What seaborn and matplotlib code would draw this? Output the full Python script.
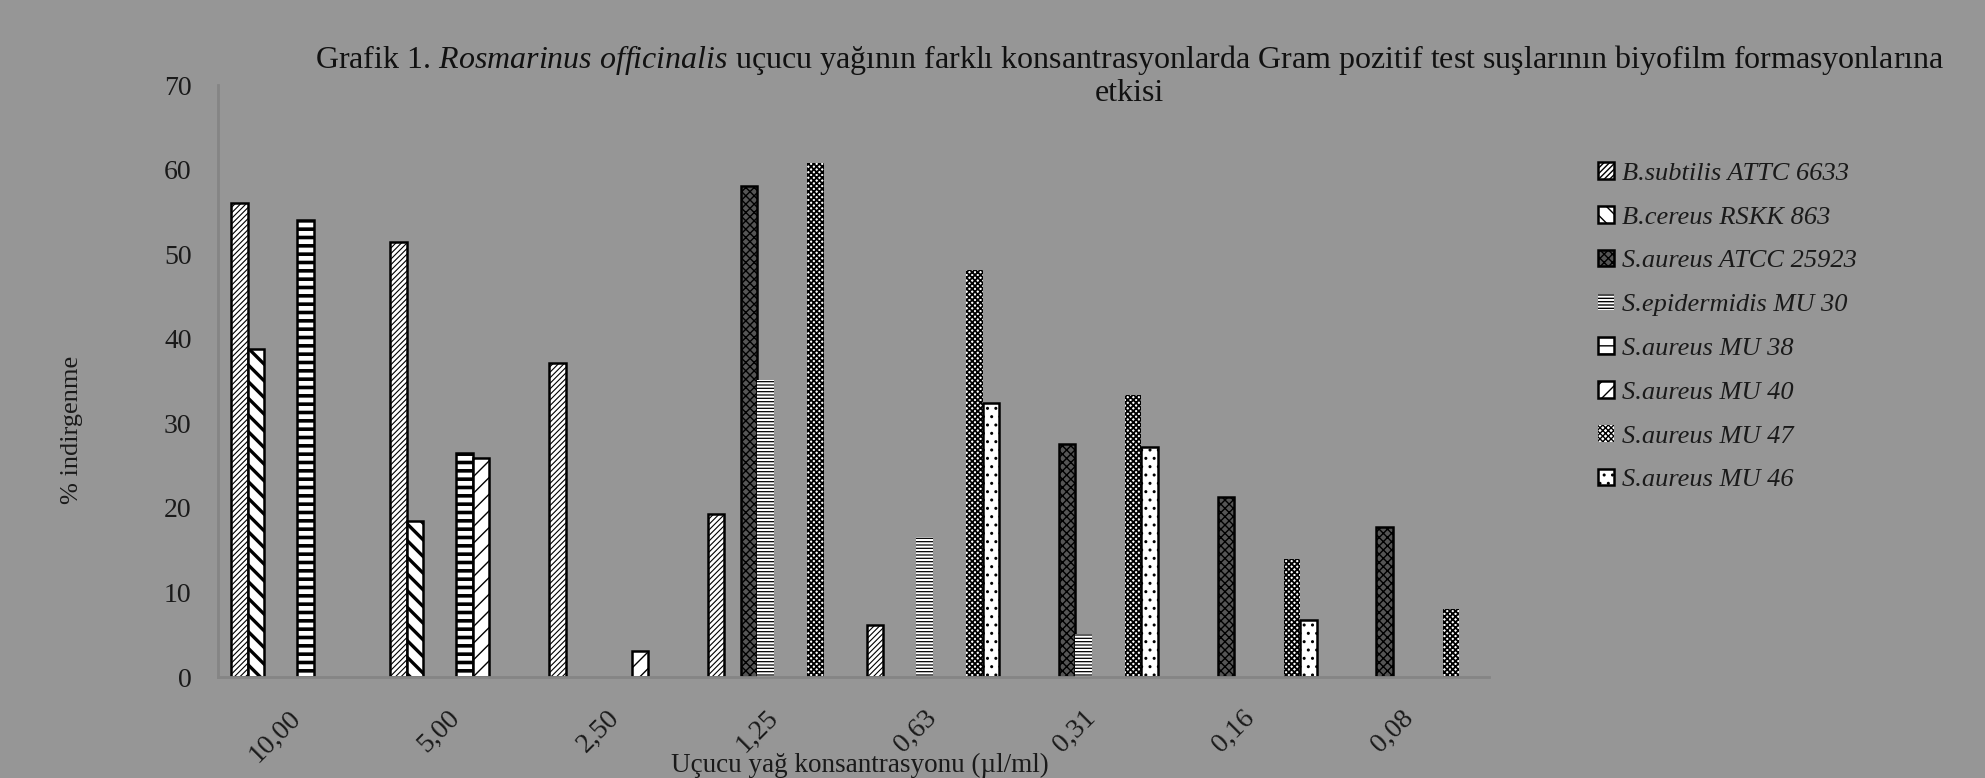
import numpy as np
import pandas as pd
import matplotlib
matplotlib.use("Agg")
import matplotlib.pyplot as plt
import seaborn as sns
from matplotlib.patches import Patch

nan = np.nan

concs = ["10,00", "5,00", "2,50", "1,25", "0,63", "0,31", "0,16", "0,08"]
strains = ["B.subtilis ATTC 6633", "B.cereus RSKK 863", "S.aureus ATCC 25923",
           "S.epidermidis MU 30", "S.aureus MU 38", "S.aureus MU 40",
           "S.aureus MU 47", "S.aureus MU 46"]

b_subtilis = [56.0, 51.4, 37.1, 19.3, 6.1, nan, nan, nan]
b_cereus = [38.8, 18.5, nan, nan, nan, nan, nan, nan]
s_aureus_atcc = [nan, nan, nan, 58.1, nan, 27.6, 21.3, 17.7]
s_epidermidis = [nan, nan, nan, 35.1, 16.6, 5.1, nan, nan]
s_aureus_mu38 = [54.0, 26.5, nan, nan, nan, nan, nan, nan]
s_aureus_mu40 = [nan, 25.9, 3.1, nan, nan, nan, nan, nan]
s_aureus_mu47 = [nan, nan, nan, 60.8, 48.1, 33.4, 14.0, 8.1]
s_aureus_mu46 = [nan, nan, nan, nan, 32.4, 27.2, 6.8, nan]

series = [b_subtilis, b_cereus, s_aureus_atcc, s_epidermidis,
          s_aureus_mu38, s_aureus_mu40, s_aureus_mu47, s_aureus_mu46]

# style per strain: facecolor, hatch, hatch linewidth, border linewidth
styles = [
    ("white", "//////", 0.8, 1.8),
    ("white", "\\\\", 2.4, 1.8),
    ("#555555", "xxxx", 1.0, 1.8),
    ("white", "-----", 0.9, 0.0),
    ("white", "--", 2.6, 1.8),
    ("white", "//", 1.0, 1.8),
    ("white", "xxxxxx", 1.3, 0.0),
    ("white", "..", 1.0, 1.8),
]

rows = []
for s, vals in zip(strains, series):
    for c, v in zip(concs, vals):
        if not np.isnan(v):
            rows.append({"conc": c, "val": v, "strain": s})
df = pd.DataFrame(rows)

BG = "#969696"
TXT = "#1a1a1a"
sns.set_style("white")
plt.rcParams["font.family"] = ["Liberation Serif", "DejaVu Serif"]
plt.rcParams["mathtext.fontset"] = "custom"
plt.rcParams["mathtext.rm"] = "Liberation Serif"
plt.rcParams["mathtext.it"] = "Liberation Serif:italic"

fig = plt.figure(figsize=(19.85, 7.78), dpi=100, facecolor=BG)
ax = fig.add_axes([0.1098, 0.1298, 0.6403, 0.7609])
ax.set_facecolor(BG)

W = 0.833
sns.barplot(data=df, x="conc", y="val", hue="strain", order=concs,
            hue_order=strains, width=W, dodge=True, ax=ax, legend=False,
            palette=["white"] * len(strains), saturation=1)

bw = W / len(strains)
for bar in ax.patches:
    xc = bar.get_x() + bar.get_width() / 2
    off = xc - round(xc)
    k = int(round((off + W / 2 - bw / 2) / bw))
    fc, h, hlw, lw = styles[k]
    bar.set_facecolor(fc)
    bar.set_edgecolor("black")
    bar.set_hatch(h)
    bar.set_linewidth(lw)
    if hasattr(bar, "set_hatch_linewidth"):
        bar.set_hatch_linewidth(hlw)

ax.set_ylim(0, 70)
ax.set_xlim(-0.5, len(concs) - 0.5)
ax.set_yticks(range(0, 71, 10))
ax.set_xticks(np.arange(-0.5, len(concs), 1.0))
ax.set_xticklabels([])
ax.set_xticks(range(len(concs)), minor=True)
ax.set_xticklabels(concs, minor=True, rotation=45, ha="right", va="center",
                   rotation_mode="anchor", fontsize=20, color=TXT)
ax.tick_params(axis="x", which="minor", length=0, pad=27)
ax.tick_params(axis="x", which="major", length=9, width=2, color="#858585",
               direction="out")
ax.tick_params(axis="y", length=9, width=2, color="#858585", direction="out",
               labelsize=20, labelcolor=TXT, pad=10)
for side in ["top", "right"]:
    ax.spines[side].set_visible(False)
for side in ["left", "bottom"]:
    ax.spines[side].set_color("#858585")
    ax.spines[side].set_linewidth(2)

ax.set_xlabel("Uçucu yağ konsantrasyonu (µl/ml)", fontsize=19.5, color=TXT)
ax.xaxis.set_label_coords(0.505, -0.128)
ax.set_ylabel("% indirgenme", fontsize=19, color=TXT)
ax.yaxis.set_label_coords(-0.106, 0.417)

fig.text(0.569, 0.903,
         "Grafik 1. $Rosmarinus\\ officinalis$ uçucu yağının farklı "
         "konsantrasyonlarda Gram pozitif test suşlarının biyofilm formasyonlarına\netkisi",
         ha="center", va="center", fontsize=23, color="#111111",
         multialignment="center", linespacing=1.08)

handles = []
for fc, h, hlw, lw in styles:
    p = Patch(facecolor=fc, edgecolor="black", hatch=h, linewidth=lw)
    handles.append(p)
fig.legend(handles, strains, loc="center left", bbox_to_anchor=(0.805, 0.58),
           frameon=False, borderpad=0, borderaxespad=0, handlelength=0.6,
           handleheight=0.6, handletextpad=0.3, labelspacing=0.8,
           prop={"style": "italic", "size": 19, "family": "Liberation Serif"},
           labelcolor=TXT)

fig.savefig("out.png", dpi=100, facecolor=BG)
